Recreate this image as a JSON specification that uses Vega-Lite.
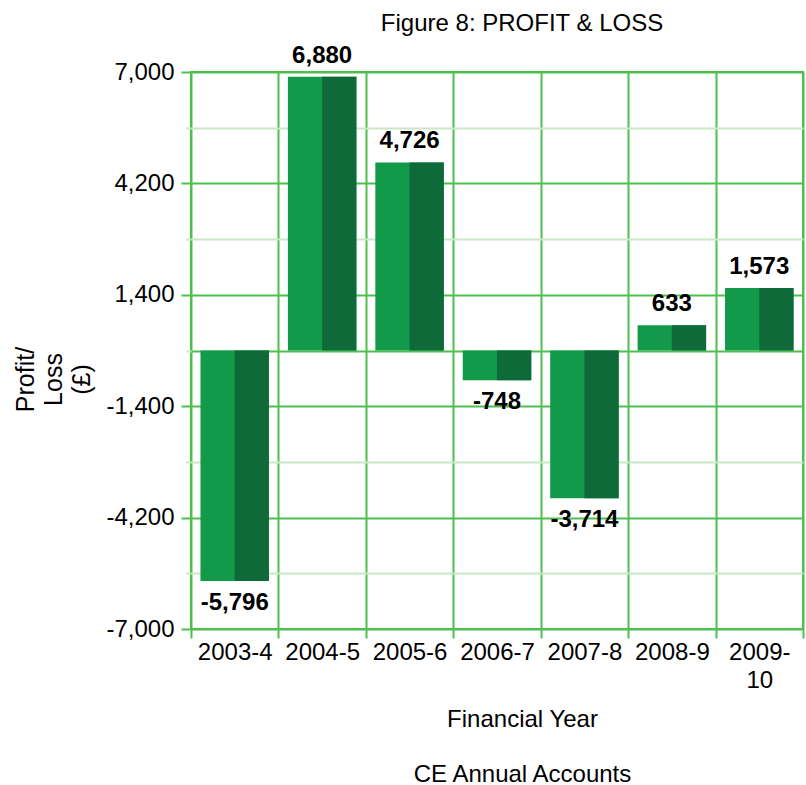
{
  "$schema": "https://vega.github.io/schema/vega-lite/v6.json",
  "width": 612,
  "height": 557,
  "autosize": {"type": "none"},
  "padding": {"left": 191, "top": 72, "right": 3, "bottom": 156},
  "background": "white",
  "config": {
    "font": "Liberation Sans",
    "view": {"stroke": "#4dbf4d", "strokeWidth": 2},
    "locale": {"number": {"decimal": ".", "thousands": ",", "grouping": [3], "currency": ["£", ""], "minus": "-"}}
  },
  "title": {
    "text": "Figure 8: PROFIT & LOSS",
    "fontSize": 24,
    "fontWeight": "normal",
    "color": "black",
    "anchor": "middle",
    "frame": "group",
    "baseline": "alphabetic",
    "dx": 25,
    "offset": -11
  },
  "data": {
    "values": [
      {"year": "2003-4", "value": -5796},
      {"year": "2004-5", "value": 6880},
      {"year": "2005-6", "value": 4726},
      {"year": "2006-7", "value": -748},
      {"year": "2007-8", "value": -3714},
      {"year": "2008-9", "value": 633},
      {"year": "2009-10", "value": 1573}
    ]
  },
  "encoding": {
    "x": {
      "field": "year",
      "type": "nominal",
      "sort": null,
      "scale": {"paddingInner": 0, "paddingOuter": 0},
      "axis": {
        "title": ["Financial Year", "CE Annual Accounts"],
        "tickBand": "extent",
        "labelAngle": 0,
        "labelFontSize": 24,
        "labelColor": "black",
        "labelExpr": "datum.value == '2009-10' ? ['2009-', '10'] : datum.label",
        "labelLineHeight": 28,
        "labelPadding": 2,
        "labelOverlap": false,
        "labelBound": false,
        "labelFlush": false,
        "domain": false,
        "grid": true,
        "gridColor": "#4dbf4d",
        "gridWidth": 2,
        "tickColor": "#4dbf4d",
        "tickWidth": 2,
        "tickSize": 9,
        "titleFontSize": 24,
        "titleFontWeight": "normal",
        "titleColor": "black",
        "titleLineHeight": 55,
        "titlePadding": 15,
        "titleX": 331,
        "titleBaseline": "top"
      }
    },
    "y": {
      "field": "value",
      "type": "quantitative",
      "scale": {"domain": [-7000, 7000], "nice": false},
      "axis": {
        "values": [-7000, -5600, -4200, -2800, -1400, 0, 1400, 2800, 4200, 5600, 7000],
        "format": ",d",
        "labelExpr": "datum.value % 2800 == 0 ? '' : datum.label",
        "labelFontSize": 24,
        "labelColor": "black",
        "labelPadding": 7,
        "domain": false,
        "grid": true,
        "gridColor": {"condition": {"test": "datum.value % 2800 == 0 && datum.value != 0", "value": "#c9e8c4"}, "value": "#4dbf4d"},
        "gridWidth": 2,
        "tickColor": {"condition": {"test": "datum.value % 2800 == 0", "value": "#c9e8c4"}, "value": "#4dbf4d"},
        "tickSize": {"condition": {"test": "datum.value % 2800 == 0", "value": 5}, "value": 10},
        "tickWidth": 2,
        "title": ["Profit/", "Loss", "(£)"],
        "titleAngle": -90,
        "titleX": -178,
        "titleY": 307,
        "titleAlign": "center",
        "titleBaseline": "top",
        "titleFontSize": 25,
        "titleFontWeight": "normal",
        "titleLineHeight": 28,
        "titleColor": "black"
      }
    }
  },
  "layer": [
    {
      "mark": {"type": "bar", "color": "#13994a", "width": {"band": 0.7835}}
    },
    {
      "mark": {"type": "bar", "color": "#0e6b39", "width": {"band": 0.39175}, "xOffset": 17.1}
    },
    {
      "transform": [{"filter": "datum.value > 0"}],
      "mark": {"type": "text", "fontSize": 24, "fontWeight": "bold", "baseline": "alphabetic", "dy": -14, "color": "black"},
      "encoding": {"text": {"field": "value", "type": "quantitative", "format": ","}}
    },
    {
      "transform": [{"filter": "datum.value < 0"}],
      "mark": {"type": "text", "fontSize": 24, "fontWeight": "bold", "baseline": "top", "dy": 10, "color": "black"},
      "encoding": {"text": {"field": "value", "type": "quantitative", "format": ","}}
    }
  ]
}
